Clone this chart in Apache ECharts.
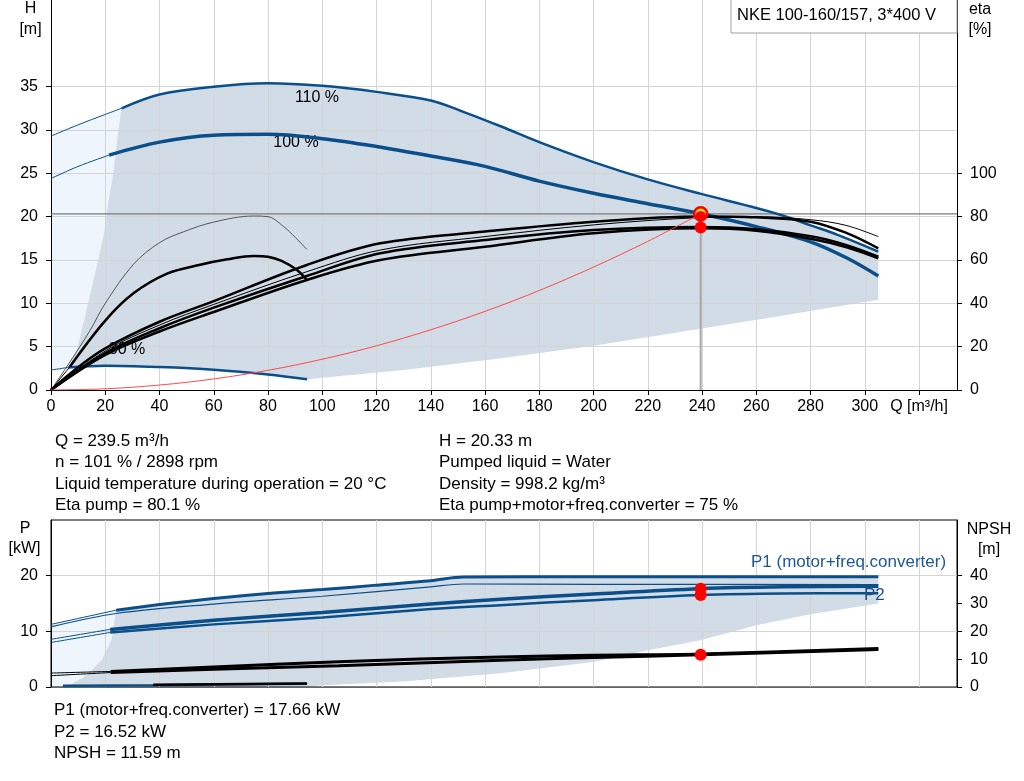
<!DOCTYPE html>
<html><head><meta charset="utf-8">
<script src="https://cdn.jsdelivr.net/npm/echarts@6/dist/echarts.min.js"></script>
<style>html,body{margin:0;padding:0;background:#fff}#c{width:1024px;height:781px}</style>
</head><body><div id="c"></div>
<script>
// ---------- tick labels ----------
const qTicks = [0,20,40,60,80,100,120,140,160,180,200,220,240,260,280,300,320];
const hTicks = [0,5,10,15,20,25,30,35];
const etaTicks = [0,20,40,60,80,100];
const pTicks = [0,10,20];
const npshTicks = [0,10,20,30,40];
const qMax = 334;

// ---------- duty point ----------
const dutyQ = 239.5, dutyH = 20.33, dutyEtaPump = 80.1, dutyEtaTotal = 75;
const dutyP1 = 17.66, dutyP2 = 16.52, dutyNPSH = 11.59;

// ---------- head curves [Q, H] ----------
const h110Thin = [[0,29.3],[10,30.6],[20,31.8],[26,32.5]];
const h110 = [[26,32.5],[40,34.1],[60,35.0],[80,35.4],[100,35.1],[120,34.4],[140,33.4],[152,32.1],[166,30.4],[180,28.6],[200,26.3],[220,24.3],[240,22.6],[260,21.0],[270,20.1],[280,19.0],[290,17.9],[305,15.96]];
const h100Thin = [[0,24.4],[10,25.8],[21.4,27.1]];
const h100 = [[21.4,27.1],[40,28.6],[60,29.4],[80,29.5],[100,29.0],[120,28.1],[140,27.0],[160,25.8],[180,24.1],[200,22.7],[220,21.5],[239.5,20.33],[260,18.85],[280,17.1],[293.6,15.2],[305,13.15]];
const h30Thin = [[0,2.3],[6.3,2.6]];
const h30 = [[6.3,2.6],[20,2.8],[40,2.65],[60,2.35],[80,1.8],[94.4,1.23]];
const systemCurve = [[0,0],[20,0.14],[40,0.57],[60,1.28],[80,2.27],[100,3.55],[120,5.1],[140,6.95],[160,9.07],[180,11.48],[200,14.18],[220,17.15],[239.5,20.33]];

// operating area edges [Q, H]
const darkLowerEdge = [[305,15.96],[305,10.4],[270,8.6],[240,7.1],[200,5.1],[166,3.65],[130,2.3],[94.4,1.23]];
const darkLeftEdge = [[6.3,2.6],[9.5,4.6],[12.5,8.5],[16.8,14.2],[19.5,18],[21.2,21.9],[23,25],[24.8,30],[26,32.5]];

// ---------- efficiency curves [Q, eta %] ----------
const etaA = [[0,0],[10,10.5],[20,19.2],[40,31.5],[60,41],[94.3,57.7],[121.4,67.7],[160,73.1],[200,77.7],[239.5,80.1],[260,79.7],[280,77.7],[293.6,72.3],[305,65.4]];
const etaB = [[0,0],[20,18],[40,30],[60,39.5],[94.3,54.6],[121.4,64.6],[160,70.8],[200,76.2],[239.5,79.6],[260,80.0],[280,78.6],[293,76],[305,70.8]];
const etaC = [[0,0],[20,17],[40,28.5],[60,38],[94.3,52.6],[121.4,63.1],[160,69.2],[200,73.8],[239.5,75.2],[260,74.2],[280,71],[293,67],[305,61.5]];
const etaD = [[0,0],[20,16.2],[40,27],[60,36],[94.3,50.8],[121.4,60],[160,66.1],[200,72.3],[239.5,74.6],[260,73.5],[280,69.8],[293,66],[305,60.8]];
const eta30Pump = [[0,0],[7,13],[14.4,27.5],[20,40],[30.4,58],[40,68],[48.8,73],[60,77.5],[74.7,80.3],[80,80],[85.7,75.5],[90,70.5],[94.3,64.9]];
const eta30TotalThin = [[0,0],[7,10.8]];
const eta30Total = [[7,10.8],[20,32],[30.4,44.6],[43,53.8],[55,57.8],[65,60.3],[74.7,61.9],[80,61.5],[85,59.6],[90.7,55.4],[94.3,50.8]];

// ---------- power curves [Q, P kW] ----------
const p1_110Thin = [[0,11.25],[24,13.8]];
const p1_110 = [[24,13.8],[40,14.8],[60,15.9],[80,16.8],[100,17.5],[120,18.3],[140,19.1],[152,19.75],[200,19.8],[260,19.8],[305,19.8]];
const p2_110 = [[0,10.8],[24,13.2],[60,14.9],[100,16.3],[140,18.0],[152,18.5],[200,18.45],[305,18.4]];
const p1_100Thin = [[0,8.56],[21.8,10.35]];
const p1_100 = [[21.8,10.35],[60,12.0],[100,13.4],[140,14.9],[165.7,15.75],[200,16.7],[239.5,17.66],[270,18.0],[305,18.1]];
const p2_100Thin = [[0,8.0],[21.8,9.8]];
const p2_100 = [[21.8,9.8],[60,11.25],[100,12.5],[140,14.0],[165.7,14.7],[200,15.6],[239.5,16.52],[270,16.8],[305,16.85]];
const p30Blue = [[4.4,0.23],[40,0.33],[94.4,0.6]];
const p30Black = [[37.7,0.4],[94.4,0.62]];
const pDarkLower = [[305,19.8],[305,15.0],[279,13.0],[260,11.1],[239.5,8.4],[220,6.6],[200,4.5],[165.7,2.45],[130,1.0],[100,0.3],[94,0]];
const pDarkLeft = [[3.3,0],[7,0.36],[13.2,2.15],[18.7,4.85],[22.4,8.6],[24,13.8]];

// ---------- NPSH curves [Q, m] ----------
const npshAThin = [[0,5.0],[22,5.6]];
const npshA = [[22,5.6],[60,7.2],[106,9.1],[165.7,10.8],[200,11.4],[239.5,11.9],[305,13.8]];
const npshBThin = [[0,4.06],[22,5.2]];
const npshB = [[22,5.2],[60,6.4],[106,7.65],[165.7,9.6],[200,10.6],[239.5,11.59],[305,13.5]];

// ---------- build ----------
const FF = '"Liberation Sans", Arial, sans-serif';
const BLUE = '#0b4f8a', DARK = '#d1dce7', LIGHT = '#eef5fc', GRID = '#d4d4d4';

const topDark = h110.concat(darkLowerEdge, h30.slice(0, -1).reverse(), darkLeftEdge);
const topLight = [[0,2.3]].concat(h110Thin, darkLeftEdge.slice().reverse());
const botDark = p1_110.concat(pDarkLower, pDarkLeft);
const botLight = [[0,0]].concat(p1_110Thin, pDarkLeft.slice().reverse());

function poly(points, xi, yi, fill) {
  return {type:'custom', xAxisIndex:xi, yAxisIndex:yi, z:-1, silent:true, animation:false,
    data:[[0,0]], renderItem:function(p, api){
      return {type:'polygon', shape:{points: points.map(function(pt){return api.coord(pt);})}, style:{fill:fill}};
    }};
}
function ln(data, xi, yi, color, width, z, smooth) {
  return {type:'line', xAxisIndex:xi, yAxisIndex:yi, data:data, symbol:'none', showSymbol:false,
    smooth: smooth === undefined ? 0.35 : smooth, silent:true, animation:false,
    lineStyle:{color:color, width:width}, z: z || 3};
}
function dot(x, y, xi, yi, size, color, border, bw, z) {
  return {type:'scatter', xAxisIndex:xi, yAxisIndex:yi, data:[[x,y]], symbolSize:size, silent:true, animation:false,
    itemStyle:{color:color, borderColor:border || color, borderWidth:bw || 0, opacity:1}, z: z || 10};
}
function txt(x, y, text, extra) {
  return Object.assign({type:'text', x:x, y:y, z:100, silent:true,
    style:{text:text, fill:'#000', fontSize:17, fontFamily:FF, textAlign:'left', textVerticalAlign:'middle'}}, extra || {});
}
function styled(x, y, text, st, z) {
  const o = txt(x, y, text); Object.assign(o.style, st); if (z !== undefined) o.z = z; return o;
}

const series = [
  poly(topLight, 0, 0, LIGHT), poly(topDark, 0, 0, DARK),
  poly(botLight, 1, 2, LIGHT), poly(botDark, 1, 2, DARK),
  // duty lines
  ln([[0,dutyH],[qMax,dutyH]], 0, 0, '#7a7a7a', 1.2, 2, false),
  ln([[dutyQ,0],[dutyQ,dutyH]], 0, 0, '#a8a8a8', 2, 2, false),
  // head
  ln(h110Thin, 0, 0, BLUE, 1), ln(h110, 0, 0, BLUE, 2.5),
  ln(h100Thin, 0, 0, BLUE, 1), ln(h100, 0, 0, BLUE, 3.5),
  ln(h30Thin, 0, 0, BLUE, 1), ln(h30, 0, 0, BLUE, 2.5),
  ln(systemCurve, 0, 0, '#ff4a4a', 1, 4),
  // efficiency
  ln(eta30Pump, 0, 1, '#555', 1),
  ln(eta30TotalThin, 0, 1, '#000', 1), ln(eta30Total, 0, 1, '#000', 2.5),
  ln(etaA, 0, 1, '#000', 2.5), ln(etaB, 0, 1, '#000', 1),
  ln(etaC, 0, 1, '#000', 2.5), ln(etaD, 0, 1, '#000', 2.5),
  // power
  ln(p1_110Thin, 1, 2, BLUE, 1), ln(p1_110, 1, 2, BLUE, 3),
  ln(p2_110, 1, 2, BLUE, 1.2),
  ln(p1_100Thin, 1, 2, BLUE, 1), ln(p1_100, 1, 2, BLUE, 3.5),
  ln(p2_100Thin, 1, 2, BLUE, 1), ln(p2_100, 1, 2, BLUE, 2.5),
  ln(p30Blue, 1, 2, BLUE, 2.5), ln(p30Black, 1, 2, '#000', 2.5, 4),
  // NPSH
  ln(npshAThin, 1, 3, '#000', 1), ln(npshA, 1, 3, '#000', 3),
  ln(npshBThin, 1, 3, '#000', 1), ln(npshB, 1, 3, '#000', 3),
  // duty dots
  dot(dutyQ, dutyH, 0, 0, 13, '#ffe400', '#ff0000', 2.5, 10),
  dot(dutyQ, dutyEtaPump, 0, 1, 11, '#ff0000', null, 0, 11),
  dot(dutyQ, dutyEtaTotal, 0, 1, 12, '#ff0000', null, 0, 11),
  dot(dutyQ, dutyP1, 1, 2, 12, '#ff0000', null, 0, 11),
  dot(dutyQ, dutyP2, 1, 2, 12, '#ff0000', null, 0, 11),
  dot(dutyQ, dutyNPSH, 1, 3, 12, '#ff0000', null, 0, 11)
];

function xAx(gi, showLabels) {
  return {gridIndex:gi, type:'value', min:0, max:qMax, interval:20,
    axisLine:{show:true, lineStyle:{color: showLabels ? '#000' : '#666', width:1}},
    axisTick:{show:showLabels, length:5, lineStyle:{color:'#000'}, customValues:qTicks},
    axisLabel:{show:showLabels, customValues:qTicks, color:'#000', fontSize:16, fontFamily:FF, margin:9,
      formatter:function(v){ return v === 320 ? 'Q [m³/h]' : String(v); }},
    splitLine:{show:true, lineStyle:{color:GRID, width:1}}};
}
function yAx(gi, pos, max, interval, ticks, grid) {
  return {gridIndex:gi, type:'value', position:pos, min:0, max:max, interval:interval,
    axisLine:{show:true, onZero:false, lineStyle:{color:'#000', width:1}},
    axisTick:{show:true, length:5, lineStyle:{color:'#000'}, customValues:ticks},
    axisLabel:{customValues:ticks, color:'#000', fontSize:16, fontFamily:FF, margin:13},
    splitLine:{show:grid, lineStyle:{color:GRID, width:1}}};
}

const option = {
  animation:false,
  backgroundColor:'#fff',
  textStyle:{fontFamily:FF},
  grid:[
    {left:51, right:67, top:0, height:390},
    {left:51, right:67, top:520, height:167, show:true, borderColor:'#000', borderWidth:1, backgroundColor:'transparent'}
  ],
  xAxis:[xAx(0, true), xAx(1, false)],
  yAxis:[
    yAx(0, 'left', 45, 5, hTicks, true),
    yAx(0, 'right', 180, 20, etaTicks, false),
    yAx(1, 'left', 30, 10, pTicks, true),
    yAx(1, 'right', 60, 10, npshTicks, false)
  ],
  series:series,
  graphic:[
    {type:'rect', shape:{x:731, y:-1, width:226, height:34}, style:{fill:'#fff', stroke:'#a0a0a0', lineWidth:1}, z:90, silent:true},
    styled(737, 15, 'NKE 100-160/157, 3*400 V', {fontSize:16.5}),
    styled(30.5, 9, 'H', {fontSize:16, textAlign:'center'}),
    styled(30.5, 30, '[m]', {fontSize:16, textAlign:'center'}),
    styled(980, 10, 'eta', {fontSize:16, textAlign:'center'}),
    styled(980, 30, '[%]', {fontSize:16, textAlign:'center'}),
    styled(25, 529, 'P', {fontSize:16, textAlign:'center'}),
    styled(24.5, 549, '[kW]', {fontSize:16, textAlign:'center'}),
    styled(989, 530, 'NPSH', {fontSize:16, textAlign:'center'}),
    styled(989, 550, '[m]', {fontSize:16, textAlign:'center'}),
    styled(317, 98, '110 %', {fontSize:16, textAlign:'center'}, 1),
    styled(296, 143, '100 %', {fontSize:16, textAlign:'center'}, 1),
    styled(127, 350, '30 %', {fontSize:16, textAlign:'center'}, 1),
    styled(751, 562, 'P1 (motor+freq.converter)', {fontSize:17, fill:'#1f5796'}),
    styled(864, 595, 'P2', {fontSize:17, fill:'#1f4e85'}),
    txt(55, 441, 'Q = 239.5 m³/h'),
    txt(55, 462, 'n = 101 % / 2898 rpm'),
    txt(55, 484, 'Liquid temperature during operation = 20 °C'),
    txt(55, 505, 'Eta pump = 80.1 %'),
    txt(439, 441, 'H = 20.33 m'),
    txt(439, 462, 'Pumped liquid = Water'),
    txt(439, 484, 'Density = 998.2 kg/m³'),
    txt(439, 505, 'Eta pump+motor+freq.converter = 75 %'),
    txt(54, 710, 'P1 (motor+freq.converter) = 17.66 kW'),
    txt(54, 732, 'P2 = 16.52 kW'),
    txt(54, 753, 'NPSH = 11.59 m')
  ]
};
const chart = echarts.init(document.getElementById('c'), null, {renderer:'canvas'});
chart.setOption(option);
</script></body></html>
